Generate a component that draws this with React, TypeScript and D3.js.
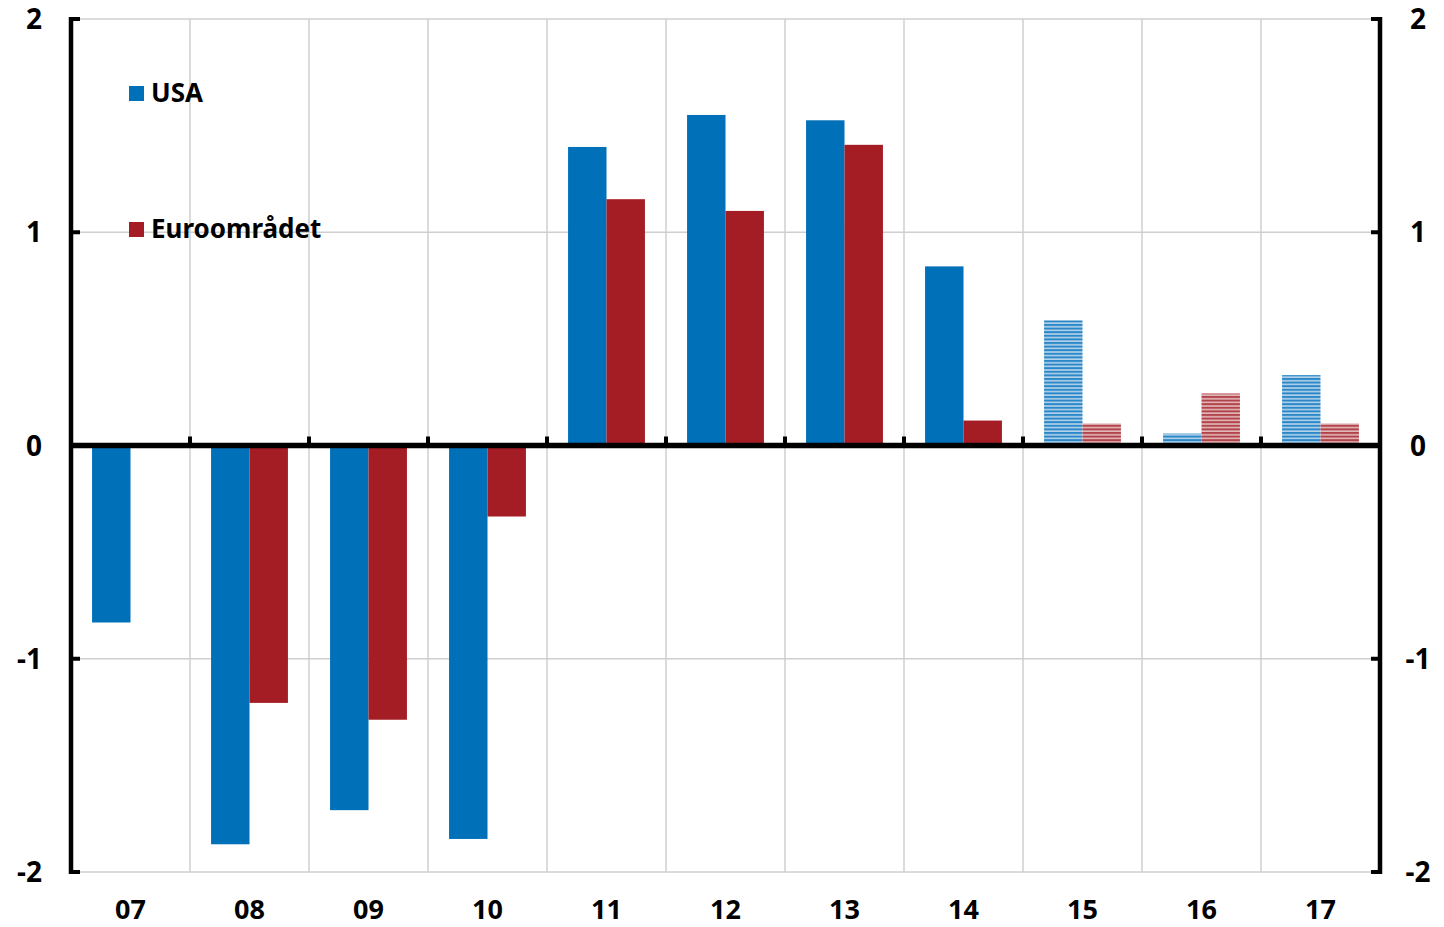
import { scaleBand, scaleLinear } from "d3";
import type { ReactElement } from "react";

const years = ["07", "08", "09", "10", "11", "12", "13", "14", "15", "16", "17"];
const usa = [-0.83, -1.87, -1.71, -1.845, 1.4, 1.55, 1.525, 0.84, 0.587, 0.056, 0.33];
const euro = [0, -1.207, -1.286, -0.333, 1.155, 1.1, 1.41, 0.117, 0.103, 0.244, 0.103];
const forecastFrom = "15";
const yTicks = [2, 1, 0, -1, -2];
const seriesNames = ["USA", "Euroområdet"];

const BLUE = "#0070b8";
const RED = "#a51d24";
const FONT = "'Noto Sans', 'Open Sans', sans-serif";

const App = (): ReactElement => {
  const width = 1444;
  const height = 927;
  const left = 71;
  const right = 1380;
  const top = 19;
  const bottom = 872;

  const x = scaleBand<string>().domain(years).range([left, right]).paddingInner(0).paddingOuter(0);
  const y = scaleLinear().domain([-2, 2]).range([bottom, top]);
  const bw = x.bandwidth();
  const barW = bw * 0.323;
  const gap = (bw - 2 * barW) / 2;
  const fIdx = years.indexOf(forecastFrom);

  const bar = (v: number, i: number, s: number, color: string, pat: string) => {
    if (v === 0) return null;
    const x0 = (x(years[i]) ?? 0) + gap + s * barW;
    const y0 = Math.min(y(v), y(0));
    const h = Math.abs(y(v) - y(0));
    const forecast = i >= fIdx;
    return (
      <rect
        key={`${s}-${i}`}
        x={x0}
        y={y0}
        width={barW}
        height={h}
        fill={forecast ? `url(#${pat})` : color}
      />
    );
  };

  return (
    <svg width={width} height={height} style={{ position: "absolute", left: 0, top: 0 }}>
      <defs>
        <pattern id="hatch-blue" patternUnits="userSpaceOnUse" width={8} height={3.6}>
          <rect width={8} height={3.6} fill="#b5d3ea" />
          <rect width={8} height={2} fill="#2a88c8" />
        </pattern>
        <pattern id="hatch-red" patternUnits="userSpaceOnUse" width={8} height={3.6}>
          <rect width={8} height={3.6} fill="#e2b9bb" />
          <rect width={8} height={2} fill="#b3434a" />
        </pattern>
      </defs>
      <rect width={width} height={height} fill="#fff" />

      {/* grid */}
      {yTicks.filter((t) => t !== 0).map((t) => (
        <line key={`gy${t}`} x1={left} x2={right} y1={y(t)} y2={y(t)} stroke="#cfcfcf" strokeWidth={1.5} />
      ))}
      {years.slice(1).map((yr) => (
        <line key={`gx${yr}`} x1={x(yr)} x2={x(yr)} y1={top} y2={bottom} stroke="#cfcfcf" strokeWidth={1.5} />
      ))}

      {usa.map((v, i) => bar(v, i, 0, BLUE, "hatch-blue"))}
      {euro.map((v, i) => bar(v, i, 1, RED, "hatch-red"))}

      {/* zero line with ticks */}
      <line x1={left} x2={right} y1={y(0)} y2={y(0)} stroke="#000" strokeWidth={5.5} />
      {years.slice(1).map((yr) => (
        <line key={`zt${yr}`} x1={x(yr)} x2={x(yr)} y1={y(0) - 9} y2={y(0)} stroke="#000" strokeWidth={4} />
      ))}

      {/* side axes */}
      <line x1={left} x2={left} y1={top - 2} y2={bottom + 2} stroke="#000" strokeWidth={4.5} />
      <line x1={right} x2={right} y1={top - 2} y2={bottom + 2} stroke="#000" strokeWidth={4.5} />
      {yTicks.map((t) => (
        <g key={`yt${t}`}>
          <line x1={left} x2={left + 9} y1={y(t)} y2={y(t)} stroke="#000" strokeWidth={4} />
          <line x1={right - 9} x2={right} y1={y(t)} y2={y(t)} stroke="#000" strokeWidth={4} />
          <text x={42} y={y(t) + 10} textAnchor="end" fontFamily={FONT} fontWeight={700} fontSize={28}>
            {t}
          </text>
          <text x={1418} y={y(t) + 10} textAnchor="middle" fontFamily={FONT} fontWeight={700} fontSize={28}>
            {t}
          </text>
        </g>
      ))}

      {years.map((yr) => (
        <text key={`xl${yr}`} x={(x(yr) ?? 0) + bw / 2} y={919} textAnchor="middle" fontFamily={FONT} fontWeight={700} fontSize={27}>
          {yr}
        </text>
      ))}

      {/* legend */}
      {seriesNames.map((name, i) => {
        const ly = i === 0 ? 93 : 229;
        return (
          <g key={name}>
            <rect x={129} y={ly - 7} width={15} height={15} fill={i === 0 ? BLUE : RED} />
            <text x={151} y={ly + 9} fontFamily={FONT} fontWeight={700} fontSize={26}>
              {name}
            </text>
          </g>
        );
      })}
    </svg>
  );
};

export default App;
